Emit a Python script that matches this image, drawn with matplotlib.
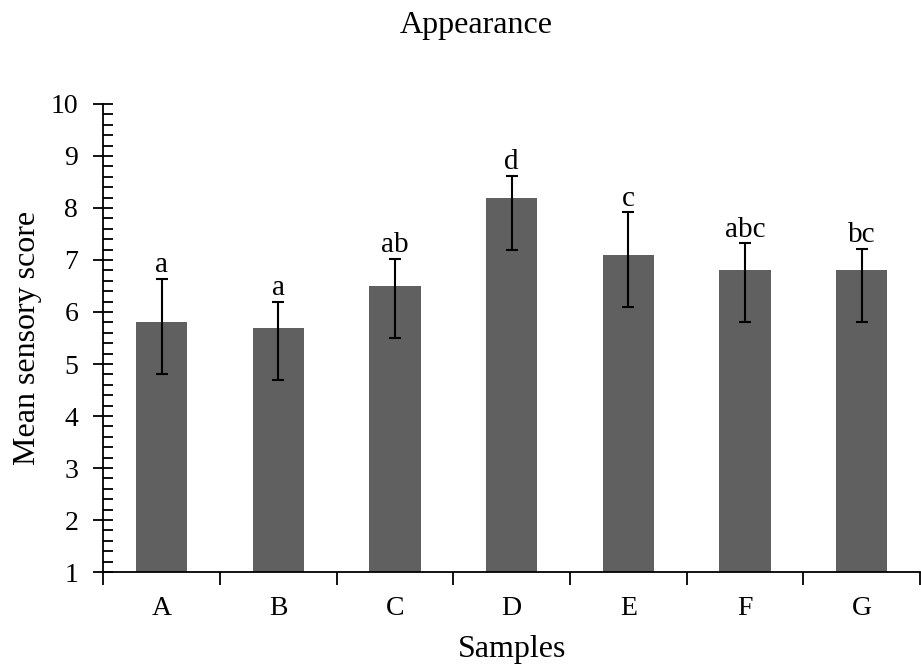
import matplotlib
matplotlib.use("Agg")
import matplotlib.pyplot as plt
import numpy as np
from matplotlib.ticker import MultipleLocator, FixedLocator

plt.rcParams['font.family'] = ['Liberation Serif', 'DejaVu Serif']

samples = ['A', 'B', 'C', 'D', 'E', 'F', 'G']
means = [5.8, 5.7, 6.5, 8.2, 7.1, 6.8, 6.8]
err_low = [1.0, 1.0, 1.0, 1.0, 1.0, 1.0, 1.0]
err_high = [0.84, 0.5, 0.52, 0.42, 0.82, 0.52, 0.42]
letters = ['a', 'a', 'ab', 'd', 'c', 'abc', 'bc']

fig = plt.figure(figsize=(9.21, 6.66), dpi=100)
ax = fig.add_axes([0.112, 0.141, 0.887, 0.703])

x = np.arange(len(samples))
bottom = 1
heights = [m - bottom for m in means]
ax.bar(x, heights, bottom=bottom, width=0.44, color='#606060', zorder=2)
ax.errorbar(x, means, yerr=[err_low, err_high], fmt='none', ecolor='black',
            elinewidth=1.5, capsize=4, capthick=1.5, zorder=3)

# significance letters just above the upper error cap
for xi, m, eh, lab in zip(x, means, err_high, letters):
    ax.text(xi, m + eh + 0.01, lab, ha='center', va='bottom', fontsize=21)

ax.set_xlim(-0.5, len(samples) - 0.5)
ax.set_ylim(1, 10)

ax.spines['top'].set_visible(False)
ax.spines['right'].set_visible(False)
for s in ['left', 'bottom']:
    ax.spines[s].set_linewidth(1.3)

ax.yaxis.set_major_locator(MultipleLocator(1))
ax.yaxis.set_minor_locator(MultipleLocator(0.2))
ax.tick_params(axis='y', which='major', direction='inout', length=14, width=1.3, labelsize=20, pad=11)
ax.tick_params(axis='y', which='minor', direction='in', length=7, width=1.3)

# ticks between categories, small inner ticks at bar centres carry the labels
ax.xaxis.set_major_locator(FixedLocator(np.arange(-0.5, len(samples), 1.0)))
ax.xaxis.set_minor_locator(FixedLocator(x))
ax.set_xticklabels([])
ax.set_xticks(x, samples, minor=True)
ax.tick_params(axis='x', which='major', direction='out', length=9, width=1.3)
ax.tick_params(axis='x', which='minor', direction='in', length=6, width=1.3, labelsize=20, pad=17)

ax.set_xlabel('Samples', fontsize=23, labelpad=10)
ax.set_ylabel('Mean sensory score', fontsize=23, labelpad=6)
fig.text(0.517, 0.962, 'Appearance', ha='center', va='center', fontsize=23)

fig.savefig('out.png', dpi=100)
